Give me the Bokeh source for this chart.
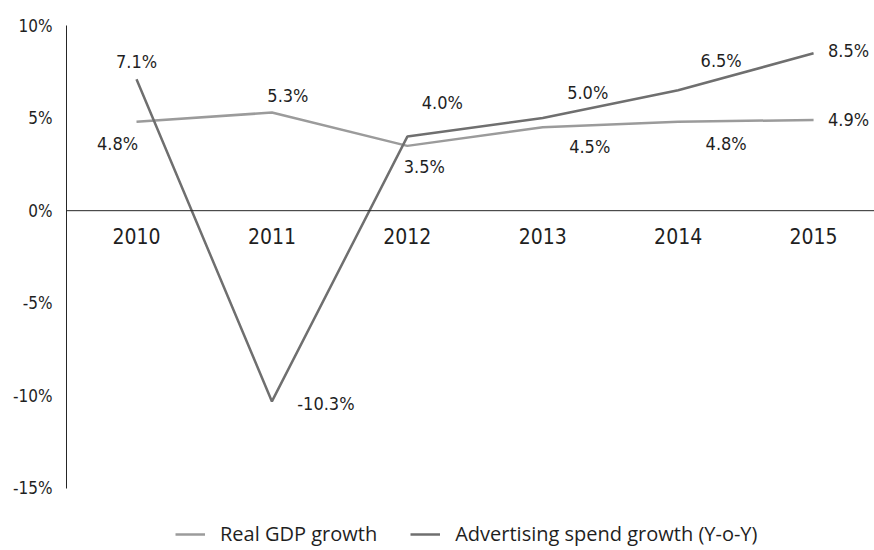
from bokeh.plotting import figure
from bokeh.models import (ColumnDataSource, Range1d, FixedTicker, PrintfTickFormatter,
                          Span, Legend, LegendItem)
from bokeh.core.properties import value
from bokeh.embed import file_html
from bokeh.resources import INLINE

# ---- data ----
years = ["2010", "2011", "2012", "2013", "2014", "2015"]
gdp_growth = [4.8, 5.3, 3.5, 4.5, 4.8, 4.9]
ad_growth = [7.1, -10.3, 4.0, 5.0, 6.5, 8.5]
y_ticks = [-15, -10, -5, 0, 5, 10]
series_names = ["Real GDP growth", "Advertising spend growth (Y-o-Y)"]

# ---- label placement (screen px, style only) ----
gdp_dx = [-19, 16, 17, 47, 48, 35]
gdp_dy = [22, -17, 21, 19, 22, 0]
ad_dx = [0, 54, 35, 45, 43, 35]
ad_dy = [-18, 2, -34, -26, -30, -3]

GDP_COLOR = "#9b9b9b"
AD_COLOR = "#6f6f6f"
AXIS_COLOR = "#262626"
TEXT_COLOR = "#1f1f1f"
FONT = "DejaVu Sans Condensed"

xs = list(range(len(years)))

p = figure(width=874, height=550, output_backend="svg", toolbar_location=None,
           x_axis_location=None, y_axis_location="left",
           x_range=Range1d(-0.517, 5.45), y_range=Range1d(-18.35, 10))
p.min_border_left = 66
p.min_border_right = 0
p.min_border_top = 25
p.min_border_bottom = 0
p.outline_line_color = None
p.grid.visible = False
p.background_fill_color = "white"
p.border_fill_color = "white"

ax = p.yaxis[0]
ax.ticker = FixedTicker(ticks=y_ticks)
ax.formatter = PrintfTickFormatter(format="%d%%")
ax.bounds = (min(y_ticks), max(y_ticks))
ax.axis_line_color = AXIS_COLOR
ax.axis_line_width = 1
ax.major_tick_line_color = None
ax.minor_tick_line_color = None
ax.major_tick_out = 0
ax.major_tick_in = 0
ax.major_label_standoff = 14
ax.major_label_text_font = FONT
ax.major_label_text_font_size = "17px"
ax.major_label_text_color = TEXT_COLOR

p.add_layout(Span(location=0, dimension="width", line_color=AXIS_COLOR, line_width=1))

# year labels just below the zero line
ysrc = ColumnDataSource(dict(x=xs, y=[0] * len(xs), t=years))
p.text("x", "y", text="t", source=ysrc, y_offset=25, text_align="center",
       text_baseline="middle", text_font=value(FONT), text_font_size="21px",
       text_color=TEXT_COLOR)

r_gdp = p.line(xs, gdp_growth, line_color=GDP_COLOR, line_width=2.5)
r_ad = p.line(xs, ad_growth, line_color=AD_COLOR, line_width=2.5)

gsrc = ColumnDataSource(dict(x=xs, y=gdp_growth, t=[f"{v:.1f}%" for v in gdp_growth],
                             dx=gdp_dx, dy=gdp_dy))
asrc = ColumnDataSource(dict(x=xs, y=ad_growth, t=[f"{v:.1f}%" for v in ad_growth],
                             dx=ad_dx, dy=ad_dy))
for src in (gsrc, asrc):
    p.text("x", "y", text="t", source=src, x_offset="dx", y_offset="dy",
           text_align="center", text_baseline="middle", text_font=value(FONT),
           text_font_size="18px", text_color=TEXT_COLOR)

legend = Legend(items=[LegendItem(label=series_names[0], renderers=[r_gdp]),
                       LegendItem(label=series_names[1], renderers=[r_ad])],
                orientation="horizontal", location=(109, 3))
legend.padding = 0
legend.margin = 0
legend.spacing = 33
legend.glyph_width = 30
legend.glyph_height = 20
legend.label_height = 20
legend.label_standoff = 15
legend.border_line_color = None
legend.background_fill_alpha = 0
legend.label_text_font = "Open Sans"
legend.label_text_font_size = "20px"
legend.label_text_color = TEXT_COLOR
p.add_layout(legend, "center")

open("out.html", "w").write(file_html(p, INLINE))
